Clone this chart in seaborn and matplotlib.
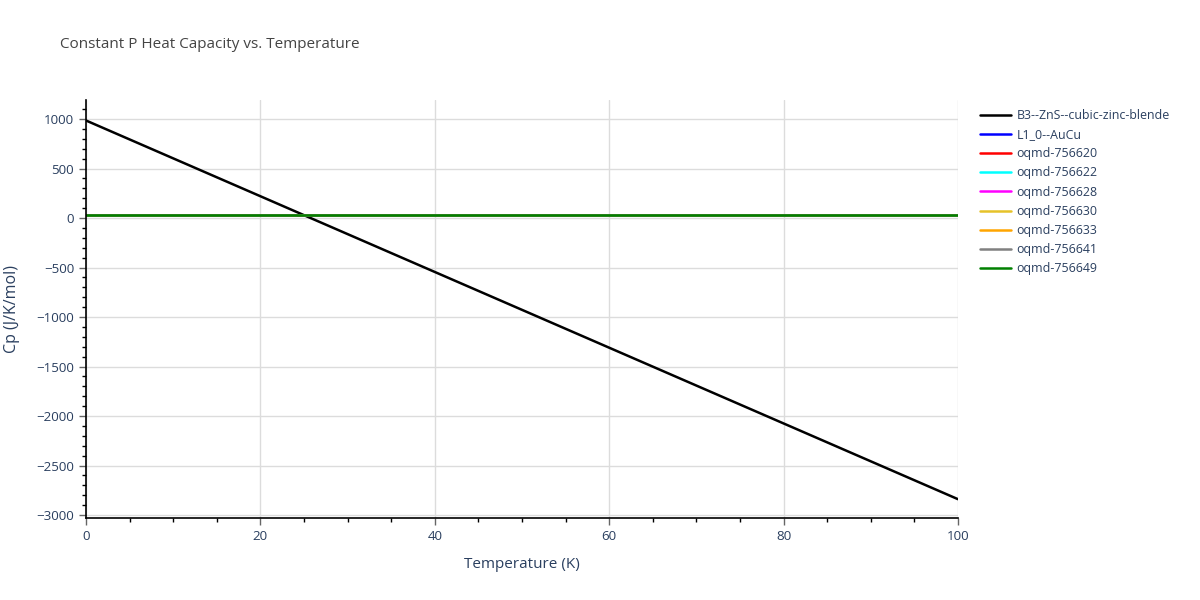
import pandas as pd
import seaborn as sns
import matplotlib.pyplot as plt
from matplotlib.ticker import MultipleLocator

# temperatures sampled along the curves (K)
temps = [0, 20, 40, 60, 80, 100]

# Cp values (J/K/mol)
series_names = [
    "B3--ZnS--cubic-zinc-blende",
    "L1_0--AuCu",
    "oqmd-756620",
    "oqmd-756622",
    "oqmd-756628",
    "oqmd-756630",
    "oqmd-756633",
    "oqmd-756641",
    "oqmd-756649",
]
cp_zns = [985, 220, -545, -1310, -2075, -2840]
cp_aucu = [26, 26, 26, 26, 26, 26]
cp_756620 = [27, 27, 27, 27, 27, 27]
cp_756622 = [27, 27, 27, 27, 27, 27]
cp_756628 = [28, 28, 28, 28, 28, 28]
cp_756630 = [26, 26, 26, 26, 26, 26]
cp_756633 = [27, 27, 27, 27, 27, 27]
cp_756641 = [28, 28, 28, 28, 28, 28]
cp_756649 = [29, 29, 29, 29, 29, 29]

colors = ["black", "blue", "red", "cyan", "magenta", "#e6c229", "orange", "gray", "green"]

all_cp = [cp_zns, cp_aucu, cp_756620, cp_756622, cp_756628,
          cp_756630, cp_756633, cp_756641, cp_756649]
rows = []
for name, vals in zip(series_names, all_cp):
    for t, v in zip(temps, vals):
        rows.append({"T": t, "Cp": v, "series": name})
df = pd.DataFrame(rows)

sns.set_theme(style="white")
plt.rcParams['font.family'] = ['Open Sans', 'DejaVu Sans']
txt = "#2a3f5f"

fig = plt.figure(figsize=(12, 6), dpi=100)
ax = fig.add_axes([86 / 1200, 1 - 518 / 600, (958 - 86) / 1200, (518 - 100) / 600])

sns.lineplot(data=df, x="T", y="Cp", hue="series", hue_order=series_names,
             palette=dict(zip(series_names, colors)), linewidth=1.8, ax=ax, legend=False)

ax.set_xlim(0, 100)
ax.set_ylim(-3030, 1192)
ax.xaxis.set_major_locator(MultipleLocator(20))
ax.xaxis.set_minor_locator(MultipleLocator(5))
ax.yaxis.set_major_locator(MultipleLocator(500))
ax.yaxis.set_minor_locator(MultipleLocator(100))
ax.grid(True, which="major", color="#dcdcdc", linewidth=1)
ax.set_axisbelow(True)

for s in ["top", "right"]:
    ax.spines[s].set_visible(False)
for s in ["left", "bottom"]:
    ax.spines[s].set_color("black")
    ax.spines[s].set_linewidth(1.2)

ax.tick_params(which="major", direction="out", length=5, width=1, color="#666666",
               labelsize=9.6, labelcolor=txt, left=True, bottom=True)
ax.tick_params(which="minor", direction="out", length=3, width=1, color="black",
               left=True, bottom=True)
ax.yaxis.set_major_formatter(plt.FuncFormatter(lambda v, p: f"{int(v)}".replace("-", "\u2212")))

ax.set_xlabel("Temperature (K)", fontsize=11, color=txt, labelpad=10)
ax.set_ylabel("Cp (J/K/mol)", fontsize=11.5, color=txt, labelpad=12)

fig.text(60 / 1200, 1 - 45 / 600, "Constant P Heat Capacity vs. Temperature",
         fontsize=11, color="#444444", va="center")

handles = [plt.Line2D([], [], color=c, linewidth=1.8) for c in colors]
fig.legend(handles, series_names, loc="upper left", bbox_to_anchor=(975 / 1200, 1 - 104 / 600),
           frameon=False, fontsize=8.9, handlelength=2.5, handletextpad=0.45,
           labelspacing=0.5, labelcolor=txt, borderaxespad=0)

fig.savefig("out.png", dpi=100)
